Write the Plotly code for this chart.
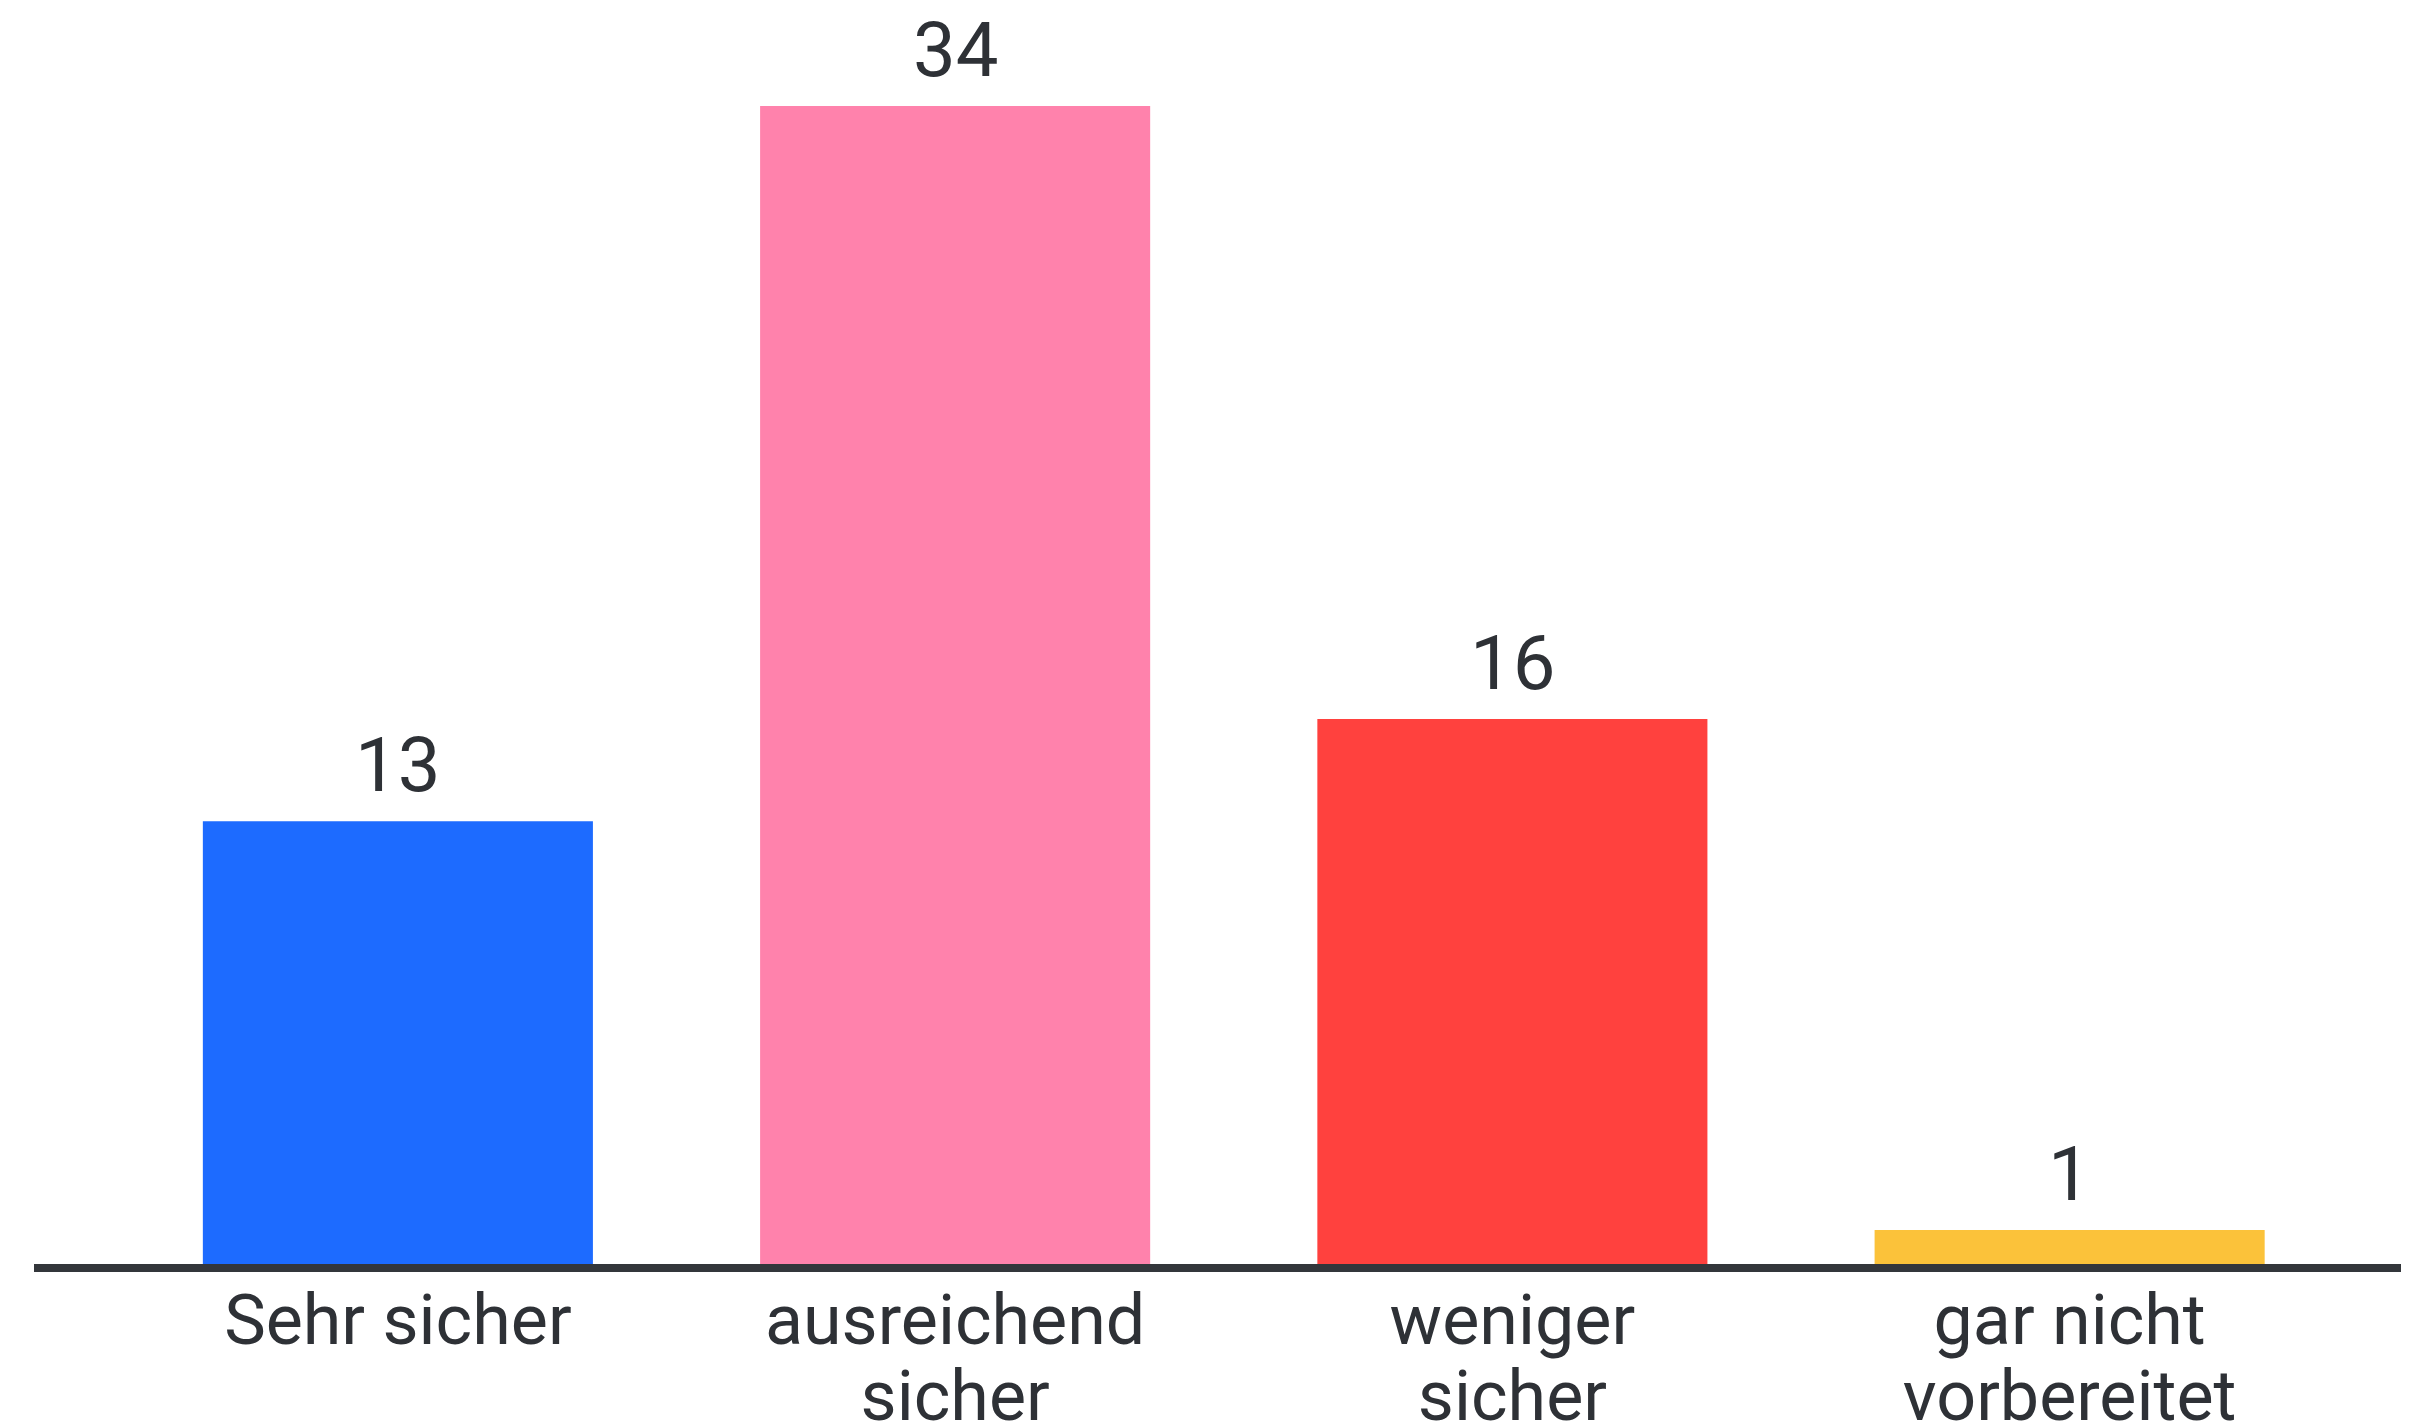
import plotly.graph_objects as go

categories = ["Sehr sicher", "ausreichend sicher", "weniger sicher", "gar nicht vorbereitet"]
label_line1 = ["Sehr sicher", "ausreichend", "weniger", "gar nicht"]
label_line2 = ["", "sicher", "sicher", "vorbereitet"]
values = [13, 34, 16, 1]
colors = ["#1D6BFF", "#FF82AC", "#FF413E", "#FBC23A"]

TEXT = "#2E3136"
FONT = "Roboto"

fig = go.Figure()
fig.add_trace(go.Bar(
    x=list(range(len(categories))), y=values,
    marker=dict(color=colors, line=dict(width=0)),
    width=0.7, hoverinfo="skip", showlegend=False,
))

for i, v in enumerate(values):
    fig.add_annotation(x=i, y=v, text=str(v), showarrow=False,
                       xref="x", yref="y", yanchor="bottom", yshift=9,
                       font=dict(family=FONT, size=76, color=TEXT))

xr = [-0.653, 3.609]
fig.update_layout(
    template="none",
    width=2409, height=1428,
    margin=dict(l=26, r=8, t=0, b=172, pad=0),
    paper_bgcolor="white", plot_bgcolor="white",
    xaxis=dict(range=xr, tickmode="array", tickvals=list(range(len(categories))),
               ticktext=label_line1, showgrid=False, zeroline=False,
               showline=True, linecolor="#33363B", linewidth=8, ticks="",
               automargin=False,
               tickfont=dict(family=FONT, size=70, color=TEXT),
               ticklabelstandoff=-12),
    xaxis2=dict(range=xr, overlaying="x", anchor="y", side="bottom",
                tickmode="array", tickvals=list(range(len(categories))),
                ticktext=label_line2, showgrid=False, zeroline=False,
                showline=False, ticks="", automargin=False,
                tickfont=dict(family=FONT, size=70, color=TEXT),
                ticklabelstandoff=85),
    yaxis=dict(range=[0, 36.88], visible=False, showgrid=False, zeroline=False,
               automargin=False),
)
# invisible helper trace so xaxis2 is drawn
fig.add_trace(go.Scatter(x=[0], y=[0], xaxis="x2", yaxis="y", mode="markers",
                         marker=dict(opacity=0), hoverinfo="skip", showlegend=False))

fig.write_html("out.html")
